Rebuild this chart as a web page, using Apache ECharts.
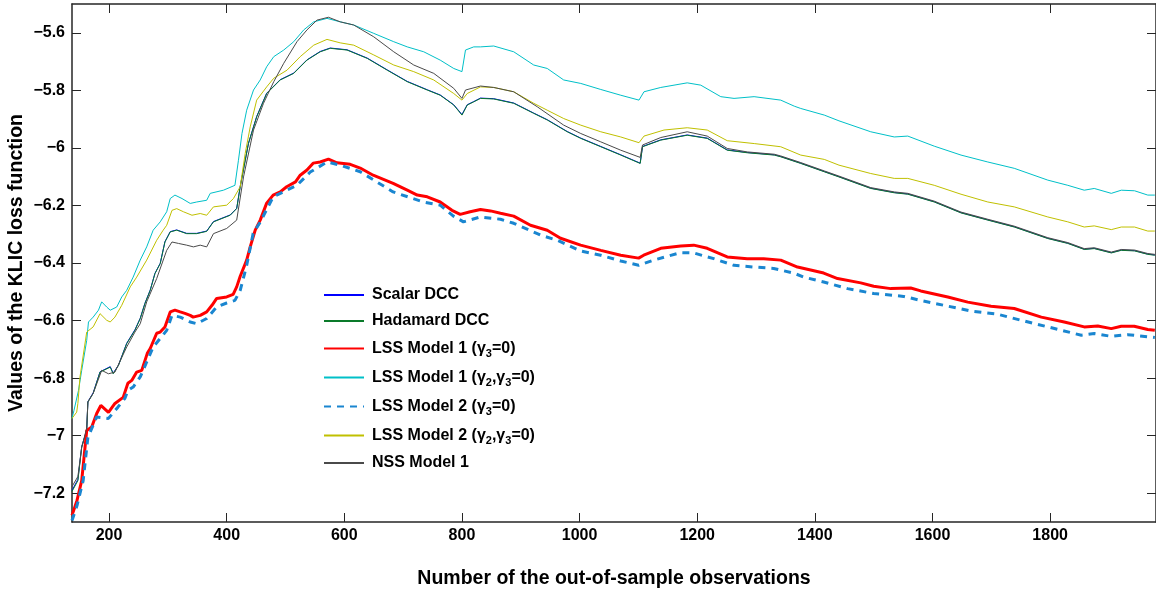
<!DOCTYPE html>
<html>
<head>
<meta charset="utf-8">
<script src="https://cdn.jsdelivr.net/npm/echarts@6/dist/echarts.min.js"></script>
<style>
html,body{margin:0;padding:0;background:#fff;}
#chart{width:1156px;height:592px;}
</style>
</head>
<body>
<div id="chart"></div>
<script>
// ---- Data (x = number of out-of-sample observations, y = KLIC loss) ----
const xTicks = [200, 400, 600, 800, 1000, 1200, 1400, 1600, 1800];
const yTicks = [-7.2, -7, -6.8, -6.6, -6.4, -6.2, -6, -5.8, -5.6];

const names = ['Scalar DCC', 'Hadamard DCC', 'LSS Model 1 (γ3=0)', 'LSS Model 1 (γ2,γ3=0)', 'LSS Model 2 (γ3=0)', 'LSS Model 2 (γ2,γ3=0)', 'NSS Model 1'];

const hadamardDCC = [[137,-7.194],[147,-7.156],[153.5,-7.040],[162,-6.982],[164,-6.883],[173,-6.853],[184.7,-6.779],[202,-6.762],[207,-6.785],[216,-6.756],[230,-6.680],[244,-6.634],[253,-6.593],[261,-6.541],[270,-6.495],[278,-6.437],[287,-6.402],[295,-6.327],[304,-6.292],[315,-6.286],[332,-6.298],[349,-6.298],[366,-6.290],[377.5,-6.257],[406,-6.234],[417,-6.211],[423,-6.135],[437,-5.985],[451,-5.892],[468,-5.811],[491,-5.764],[514,-5.741],[536.5,-5.695],[559,-5.666],[576,-5.654],[604.6,-5.660],[639,-5.689],[673,-5.730],[707,-5.770],[741,-5.799],[763,-5.817],[786,-5.851],[800,-5.886],[809,-5.851],[820,-5.840],[831.5,-5.828],[854,-5.830],[888,-5.845],[922,-5.880],[945,-5.903],[979,-5.944],[1002,-5.967],[1036,-5.996],[1070,-6.025],[1103,-6.054],[1107,-5.996],[1138,-5.973],[1183,-5.956],[1217,-5.967],[1251,-6.008],[1285,-6.017],[1331,-6.025],[1342,-6.031],[1376,-6.054],[1416,-6.083],[1441,-6.101],[1495,-6.141],[1535,-6.156],[1558,-6.161],[1603,-6.188],[1648.5,-6.226],[1694,-6.251],[1739,-6.275],[1796,-6.315],[1830,-6.332],[1858,-6.353],[1875,-6.350],[1904,-6.365],[1921,-6.356],[1943.5,-6.358],[1966,-6.370],[1978,-6.373]];

const scalarDCC = [[137,-7.190],[147,-7.152],[153.5,-7.038],[162,-6.980],[164,-6.882],[173,-6.851],[184.7,-6.778],[202,-6.760],[207,-6.783],[216,-6.755],[230,-6.679],[244,-6.632],[253,-6.592],[261,-6.540],[270,-6.494],[278,-6.436],[287,-6.401],[295,-6.326],[304,-6.291],[315,-6.285],[332,-6.297],[349,-6.297],[366,-6.289],[377.5,-6.256],[406,-6.233],[417,-6.210],[423,-6.134],[437,-5.984],[451,-5.891],[468,-5.810],[491,-5.763],[514,-5.740],[536.5,-5.694],[559,-5.665],[576,-5.653],[604.6,-5.659],[639,-5.688],[673,-5.729],[707,-5.769],[741,-5.798],[763,-5.816],[786,-5.850],[800,-5.884],[809,-5.850],[820,-5.839],[831.5,-5.827],[854,-5.829],[888,-5.844],[922,-5.879],[945,-5.902],[979,-5.943],[1002,-5.966],[1036,-5.995],[1070,-6.024],[1103,-6.053],[1107,-5.995],[1138,-5.972],[1183,-5.955],[1217,-5.966],[1251,-6.007],[1285,-6.016],[1331,-6.024],[1342,-6.030],[1376,-6.053],[1416,-6.082],[1441,-6.100],[1495,-6.140],[1535,-6.155],[1558,-6.160],[1603,-6.187],[1648.5,-6.225],[1694,-6.250],[1739,-6.274],[1796,-6.314],[1830,-6.331],[1858,-6.352],[1875,-6.349],[1904,-6.364],[1921,-6.355],[1943.5,-6.357],[1966,-6.369],[1978,-6.372]];

const lss1G3 = [[137,-7.277],[145.5,-7.225],[153.5,-7.156],[162,-6.982],[170.5,-6.970],[179,-6.923],[186,-6.895],[199,-6.919],[210,-6.888],[224,-6.867],[232,-6.818],[238.6,-6.808],[247,-6.779],[255.6,-6.773],[265,-6.714],[270,-6.697],[281,-6.644],[287,-6.640],[295,-6.622],[304,-6.570],[312,-6.564],[321,-6.570],[329,-6.575],[338,-6.582],[343,-6.588],[355,-6.582],[366,-6.570],[375,-6.547],[383,-6.523],[400,-6.518],[411,-6.509],[417,-6.483],[423,-6.446],[434,-6.390],[440,-6.344],[448.5,-6.286],[457,-6.251],[468,-6.192],[479,-6.164],[491,-6.153],[502,-6.135],[517,-6.118],[525,-6.095],[536.5,-6.077],[547,-6.053],[559,-6.049],[573,-6.039],[587.5,-6.052],[610,-6.057],[627,-6.070],[649,-6.095],[683,-6.123],[707,-6.147],[724,-6.164],[741,-6.170],[763,-6.188],[783,-6.217],[797,-6.231],[814,-6.222],[831.5,-6.214],[848.5,-6.219],[865.5,-6.227],[888,-6.237],[916.5,-6.269],[945,-6.286],[967.6,-6.314],[1001.7,-6.338],[1036,-6.356],[1070,-6.373],[1100.4,-6.383],[1109,-6.373],[1138,-6.349],[1172,-6.341],[1194,-6.338],[1217,-6.349],[1251,-6.379],[1285,-6.385],[1313,-6.385],[1342,-6.390],[1370.5,-6.414],[1415,-6.435],[1438.6,-6.454],[1478,-6.469],[1500,-6.481],[1529,-6.489],[1563,-6.487],[1580,-6.497],[1626,-6.518],[1660,-6.536],[1699.5,-6.550],[1739,-6.558],[1785,-6.588],[1824,-6.605],[1858,-6.622],[1881,-6.619],[1904,-6.628],[1921,-6.620],[1943,-6.620],[1966,-6.631],[1978,-6.634]];

const lss1G2G3 = [[137,-6.940],[140.4,-6.912],[148,-6.843],[153.5,-6.773],[162,-6.669],[165,-6.605],[173,-6.588],[182,-6.564],[187.5,-6.535],[196,-6.553],[202,-6.564],[213,-6.553],[221.6,-6.518],[230,-6.495],[241,-6.449],[253,-6.390],[264,-6.344],[275,-6.286],[287,-6.257],[298,-6.222],[304,-6.176],[312,-6.164],[324,-6.176],[338,-6.193],[349,-6.188],[366,-6.182],[372,-6.158],[394.5,-6.147],[414,-6.130],[420,-6.043],[426,-5.950],[434,-5.869],[445.6,-5.799],[457,-5.764],[468,-5.718],[480,-5.683],[497,-5.660],[514,-5.631],[531,-5.590],[548,-5.562],[570.5,-5.550],[593,-5.562],[616,-5.573],[650,-5.602],[684,-5.631],[707,-5.649],[735,-5.666],[763,-5.695],[786,-5.724],[800,-5.735],[806,-5.660],[820,-5.649],[831.5,-5.649],[854,-5.646],[888,-5.666],[922,-5.712],[945,-5.724],[973,-5.764],[1002,-5.776],[1036,-5.797],[1070,-5.817],[1101,-5.834],[1109.5,-5.805],[1138,-5.790],[1183,-5.774],[1206,-5.782],[1240,-5.822],[1262.6,-5.828],[1296.7,-5.822],[1342,-5.834],[1365,-5.855],[1376,-5.863],[1416,-5.886],[1441,-5.906],[1495,-5.944],[1535,-5.962],[1558,-5.959],[1603,-5.994],[1648.5,-6.025],[1694,-6.049],[1739,-6.071],[1796,-6.112],[1830,-6.130],[1858,-6.147],[1875,-6.141],[1904,-6.158],[1921,-6.147],[1943.5,-6.149],[1966,-6.164],[1978,-6.164]];

const lss2G3 = [[137,-7.295],[145.5,-7.243],[156,-7.156],[164,-7.006],[179,-6.935],[199,-6.940],[215,-6.901],[227,-6.870],[232,-6.843],[241,-6.831],[253,-6.796],[264,-6.744],[275,-6.692],[287,-6.662],[298,-6.634],[307,-6.582],[321,-6.588],[338,-6.605],[349,-6.611],[366,-6.593],[383,-6.553],[400,-6.539],[414,-6.530],[423,-6.495],[434,-6.408],[445,-6.297],[457,-6.258],[479,-6.170],[519.5,-6.130],[542,-6.084],[570.5,-6.049],[593,-6.060],[627,-6.083],[683,-6.153],[734,-6.188],[763,-6.199],[785.5,-6.237],[802.5,-6.257],[831.5,-6.240],[865.5,-6.248],[888,-6.262],[933.6,-6.303],[962,-6.321],[1001.7,-6.358],[1036,-6.373],[1070,-6.393],[1100.4,-6.408],[1126,-6.390],[1172,-6.364],[1194,-6.365],[1228,-6.385],[1262.5,-6.408],[1296,-6.414],[1330,-6.419],[1364,-6.435],[1381,-6.449],[1415,-6.466],[1455.6,-6.489],[1500,-6.506],[1551,-6.516],[1580,-6.530],[1626,-6.550],[1665.5,-6.567],[1711,-6.578],[1750.6,-6.599],[1796,-6.622],[1853,-6.651],[1875,-6.645],[1904,-6.655],[1932,-6.649],[1978,-6.659]];

const lss2G2G3 = [[137,-6.940],[145,-6.918],[147,-6.888],[150.6,-6.796],[162,-6.640],[173,-6.622],[184.7,-6.576],[196,-6.599],[202,-6.605],[210,-6.588],[221.6,-6.547],[236,-6.483],[247,-6.449],[264,-6.390],[281,-6.321],[292,-6.286],[298,-6.269],[307,-6.217],[315,-6.211],[326.5,-6.222],[341,-6.234],[355,-6.228],[366,-6.234],[377.5,-6.205],[400,-6.199],[411.5,-6.176],[423,-6.135],[431.5,-6.019],[440,-5.927],[451,-5.834],[468,-5.788],[480,-5.758],[502.5,-5.730],[525,-5.683],[548,-5.643],[570.5,-5.623],[593,-5.635],[616,-5.643],[650,-5.677],[684,-5.712],[718,-5.735],[752,-5.764],[786,-5.811],[800,-5.834],[809,-5.811],[831.5,-5.788],[854,-5.790],[888,-5.805],[922,-5.845],[945,-5.869],[973,-5.898],[1002,-5.921],[1036,-5.944],[1070,-5.962],[1101,-5.982],[1109.5,-5.959],[1143.5,-5.938],[1183,-5.930],[1217,-5.938],[1251,-5.975],[1297,-5.985],[1342,-5.996],[1376,-6.025],[1416,-6.040],[1441,-6.060],[1495,-6.089],[1535,-6.106],[1558,-6.106],[1603,-6.130],[1648.5,-6.161],[1694,-6.188],[1739,-6.205],[1796,-6.240],[1830,-6.257],[1858,-6.275],[1875,-6.271],[1904,-6.284],[1921,-6.275],[1943.5,-6.275],[1966,-6.289],[1978,-6.289]];

const nss1 = [[137,-7.177],[147,-7.142],[153.5,-7.040],[162,-6.975],[164,-6.883],[173,-6.853],[187.5,-6.773],[199,-6.785],[210,-6.779],[230,-6.692],[244,-6.640],[253,-6.611],[264,-6.535],[281,-6.454],[298,-6.356],[307,-6.327],[318,-6.332],[332,-6.338],[343.5,-6.344],[355,-6.338],[366,-6.344],[377.5,-6.298],[400,-6.280],[417,-6.251],[428.6,-6.101],[445.6,-5.938],[462.6,-5.845],[480,-5.770],[497,-5.706],[519.5,-5.631],[536.5,-5.590],[553.5,-5.556],[573,-5.546],[593,-5.562],[616,-5.573],[650,-5.614],[684,-5.666],[718,-5.712],[752,-5.741],[786,-5.793],[800,-5.828],[806,-5.799],[831.5,-5.785],[854,-5.790],[888,-5.805],[928,-5.857],[973,-5.921],[1002,-5.950],[1036,-5.979],[1070,-6.008],[1103,-6.033],[1107,-5.990],[1138,-5.964],[1183,-5.944],[1217,-5.959],[1251,-6.002],[1285,-6.014],[1331,-6.022],[1342,-6.028],[1376,-6.051],[1416,-6.080],[1441,-6.098],[1495,-6.138],[1535,-6.153],[1558,-6.158],[1603,-6.185],[1648.5,-6.223],[1694,-6.248],[1739,-6.272],[1796,-6.312],[1830,-6.329],[1858,-6.350],[1875,-6.347],[1904,-6.362],[1921,-6.353],[1943.5,-6.355],[1966,-6.367],[1978,-6.370]];

// ---- Chart ----
const chart = echarts.init(document.getElementById('chart'), null, {renderer: 'canvas'});
const FONT = '"Liberation Sans", Arial, Helvetica, sans-serif';
const yFmt = v => (v < 0 ? '\u2212' + String(Math.abs(v)) : String(v));
const xFmt = v => String(v);

function mk(name, data, color, width, dashed) {
  return {
    name: name, type: 'line', data: data, symbol: 'none', smooth: false,
    clip: true,
    lineStyle: {color: color, width: width, type: dashed ? [7, 6] : 'solid'},
    itemStyle: {color: color},
    emphasis: {disabled: true}
  };
}

const tickStyle = {color: '#262626', width: 1};
const lineStyleAx = {color: '#262626', width: 1.5};

chart.setOption({
  animation: false,
  backgroundColor: '#ffffff',
  grid: {left: 72, right: 0, top: 4, bottom: 70, containLabel: false, outerBoundsMode: 'none'},
  xAxis: [
    {
      type: 'value', min: 137, max: 1980, position: 'bottom',
      name: 'Number of the out-of-sample observations',
      nameLocation: 'middle', nameGap: 47, nameMoveOverlap: false,
      nameTextStyle: {fontFamily: FONT, fontWeight: 'bold', fontSize: 19.5, color: '#000'},
      axisLine: {show: true, onZero: false, lineStyle: lineStyleAx},
      splitLine: {show: false},
      axisTick: {show: true, inside: true, length: 9, customValues: xTicks, lineStyle: tickStyle},
      axisLabel: {customValues: xTicks, formatter: xFmt, fontFamily: FONT, fontWeight: 'bold', fontSize: 16, color: '#000', margin: 6}
    },
    {
      type: 'value', min: 137, max: 1980, position: 'top',
      axisLine: {show: true, onZero: false, lineStyle: lineStyleAx},
      splitLine: {show: false},
      axisTick: {show: true, inside: true, length: 9, customValues: xTicks, lineStyle: tickStyle},
      axisLabel: {show: false}
    }
  ],
  yAxis: [
    {
      type: 'value', min: -7.3, max: -5.5, position: 'left',
      name: 'Values of the KLIC loss function',
      nameLocation: 'middle', nameGap: 45, nameMoveOverlap: false,
      nameTextStyle: {fontFamily: FONT, fontWeight: 'bold', fontSize: 19.5, color: '#000'},
      axisLine: {show: true, onZero: false, lineStyle: lineStyleAx},
      splitLine: {show: false},
      axisTick: {show: true, inside: true, length: 9, customValues: yTicks, lineStyle: tickStyle},
      axisLabel: {customValues: yTicks, formatter: yFmt, fontFamily: FONT, fontWeight: 'bold', fontSize: 16, color: '#000', margin: 7}
    },
    {
      type: 'value', min: -7.3, max: -5.5, position: 'right',
      axisLine: {show: true, onZero: false, lineStyle: lineStyleAx},
      splitLine: {show: false},
      axisTick: {show: true, inside: true, length: 9, customValues: yTicks, lineStyle: tickStyle},
      axisLabel: {show: false}
    }
  ],
  legend: {
    show: true, orient: 'vertical', left: 318, top: 281,
    itemWidth: 40, itemHeight: 14, itemGap: 8,
    data: names,
    itemStyle: {opacity: 0, borderWidth: 0},
    formatter: function (n) {
      return n.replace(/γ(\d)/g, '{g|γ}{s|$1}');
    },
    textStyle: {
      fontFamily: FONT, fontWeight: 'bold', fontSize: 16, color: '#000', lineHeight: 18, padding: [0, 0, 0, 3],
      rich: {
        g: {fontFamily: FONT, fontWeight: 'bold', fontSize: 16, color: '#000', lineHeight: 18},
        s: {fontFamily: FONT, fontWeight: 'bold', fontSize: 11, color: '#000', lineHeight: 18, padding: [10, 0, 0, 0]}
      }
    }
  },
  series: [
    mk(names[0], scalarDCC, '#0000ff', 1, false),
    mk(names[1], hadamardDCC, '#0a7a2a', 1, false),
    mk(names[2], lss1G3, '#ff0000', 3, false),
    mk(names[3], lss1G2G3, '#00c0c8', 1, false),
    mk(names[4], lss2G3, '#1a86d0', 3, true),
    mk(names[5], lss2G2G3, '#c0c000', 1, false),
    mk(names[6], nss1, '#4a4a4a', 1, false)
  ]
});
</script>
</body>
</html>
